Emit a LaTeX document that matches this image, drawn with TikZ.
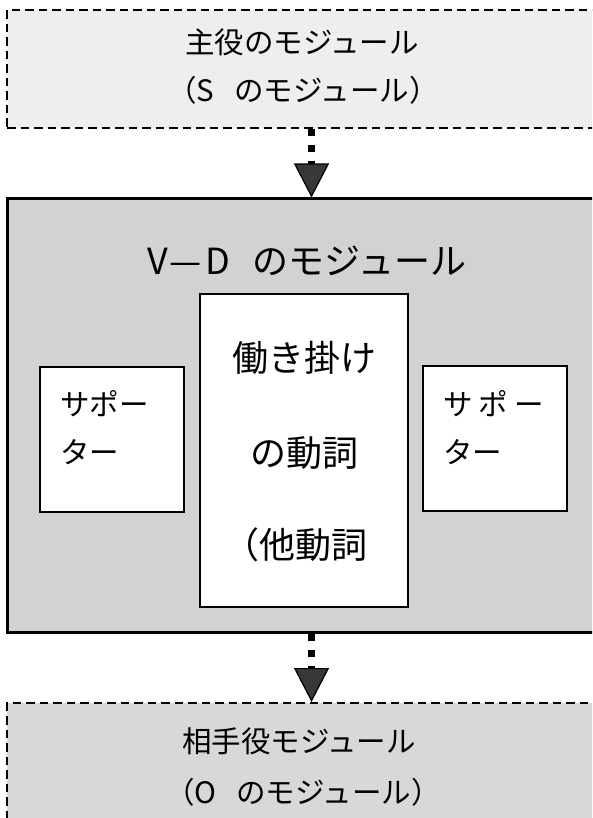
\documentclass[tikz,border=0pt]{standalone}
\usepackage{fontspec}
\setmainfont{Noto Sans CJK JP}
\usetikzlibrary{arrows.meta}
\definecolor{topfill}{HTML}{EEEEEE}
\definecolor{midfill}{HTML}{D2D2D2}
\definecolor{botfill}{HTML}{D8D8D8}
\definecolor{tipfill}{HTML}{383838}
\tikzset{
  dashbox/.style={draw=black, line width=2pt, dash pattern=on 8.5pt off 5pt, rectangle, inner sep=0pt},
  solidbox/.style={draw=black, line width=3pt, rectangle, inner sep=0pt},
  whitebox/.style={draw=black, line width=1.8pt, fill=white, rectangle, inner sep=0pt},
  flowarrow/.style={draw=black, line width=7pt, dash pattern=on 7pt off 9pt,
    -{Triangle[length=34pt, width=35pt, line width=1.2pt, fill=tipfill]}},
  txt/.style={inner sep=0pt, text=black},
}
\begin{document}
\begin{tikzpicture}[x=1pt, y=-1pt]
\useasboundingbox (0,0) rectangle (592,818);
\clip (0,0) rectangle (592,818);
\fill[white] (0,0) rectangle (592,818);

% boxes
\node[dashbox, fill=topfill, minimum width=609pt, minimum height=118pt] (top) at (311.5,69) {};
\node[solidbox, fill=midfill, minimum width=609pt, minimum height=433pt] (mid) at (311.5,415.5) {};
\node[dashbox, fill=botfill, minimum width=609pt, minimum height=200pt] (bot) at (311.5,803) {};

\node[whitebox, minimum width=208pt, minimum height=313pt] (verb) at (304,450.5) {};
\node[whitebox, minimum width=144pt, minimum height=145pt] (supl) at (112,439.5) {};
\node[whitebox, minimum width=144pt, minimum height=145pt] (supr) at (495,438.5) {};

% texts
\node[txt, font=\fontsize{29.5}{29.5}\selectfont] (t1) at (302,42) {主役のモジュール};
\node[txt, font=\fontsize{29.5}{29.5}\selectfont] (t2) at (303,90) {（S \hspace{13pt}のモジュール）};
\node[txt, font=\fontsize{36}{36}\selectfont, anchor=west] (t3) at (147,261) {V\hspace{2pt}—\hspace{3pt}D \hspace{15pt}のモジュール};
\node[txt, font=\fontsize{36}{36}\selectfont] (t4a) at (304,358) {働き掛け};
\node[txt, font=\fontsize{36}{36}\selectfont] (t4b) at (304,453) {の動詞};
\node[txt, font=\fontsize{36}{36}\selectfont] (t4c) at (295,545) {（他動詞};
\node[txt, font=\fontsize{29.5}{48}\selectfont, align=left, anchor=west] (t5) at (60,428) {サポー\\ター};
\node[txt, font=\fontsize{29.5}{48}\selectfont, align=left, anchor=west] (t6) at (443,428) {サ\hspace{6pt}ポ\hspace{6pt}ー\\ター};
\node[txt, font=\fontsize{29.5}{29.5}\selectfont] (t7) at (299,741) {相手役モジュール};
\node[txt, font=\fontsize{29.5}{29.5}\selectfont] (t8) at (303,792) {（O \hspace{13pt}のモジュール）};

% arrows
\draw[flowarrow] (top.south) -- (mid.north);
\draw[flowarrow] (mid.south) -- (bot.north);
\end{tikzpicture}
\end{document}
